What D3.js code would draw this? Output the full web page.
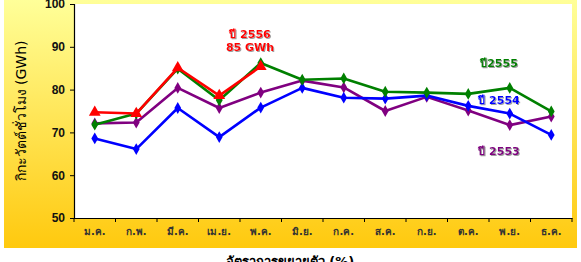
<!DOCTYPE html>
<html><head><meta charset="utf-8">
<script src="https://cdn.jsdelivr.net/npm/d3@7/dist/d3.min.js"></script>
<style>body{margin:0;background:#fff;overflow:hidden}svg{display:block}</style>
</head><body><svg id="c" width="581" height="262"></svg>
<script>
const months = ["ม.ค.","ก.พ.","มี.ค.","เม.ย.","พ.ค.","มิ.ย.","ก.ค.","ส.ค.","ก.ย.","ต.ค.","พ.ย.","ธ.ค."];
const yTicks = [50,60,70,80,90,100];
const y2553 = [72.1,72.3,80.4,75.7,79.3,82.1,80.5,75.0,78.3,75.1,71.7,73.7];
const y2554 = [68.6,66.1,75.7,68.9,75.8,80.4,78.1,77.9,78.6,76.2,74.4,69.4];
const y2555 = [71.8,74.4,84.9,77.5,86.2,82.3,82.6,79.5,79.3,79.0,80.4,74.9];
const y2556 = [74.7,74.4,85.1,78.6,85.4];

const svg = d3.select("#c");
const defs = svg.append("defs");
const g = defs.append("linearGradient").attr("id","bg").attr("x1",0).attr("y1",0).attr("x2",0).attr("y2",1);
g.append("stop").attr("offset","0%").attr("stop-color","#FFFF99");
g.append("stop").attr("offset","100%").attr("stop-color","#FFC90E");
const f = defs.append("filter").attr("id","sh").attr("x","-20%").attr("y","-20%").attr("width","150%").attr("height","150%");
f.append("feDropShadow").attr("dx",1).attr("dy",1).attr("stdDeviation",0.6).attr("flood-color","#888").attr("flood-opacity",0.8);

svg.append("rect").attr("x",4).attr("y",0).attr("width",573).attr("height",248).attr("fill","url(#bg)");

const L=74,R=572,T=4,B=218;
svg.append("rect").attr("x",L).attr("y",T).attr("width",R-L).attr("height",B-T).attr("fill","#fff");

const x = d3.scaleBand().domain(months).range([L,R]);
const y = d3.scaleLinear().domain([50,100]).range([B,T]);

const ya = svg.append("g").attr("transform",`translate(${L},0)`).call(d3.axisLeft(y).tickValues(yTicks).tickSize(4).tickFormat(d3.format("d")));
ya.select(".domain").attr("stroke","#000").attr("stroke-width",1.2);
ya.selectAll("text").attr("font-family","Liberation Sans, Arial").attr("font-size",12).attr("font-weight","bold").attr("fill","#111").attr("dx",-2);

const xa = svg.append("g").attr("transform",`translate(0,${B})`).call(d3.axisBottom(x).tickSize(0).tickPadding(0));
xa.select(".domain").attr("stroke","#000").attr("stroke-width",1.2);
xa.selectAll(".tick text").attr("font-family","Tahoma, DejaVu Sans, Noto Sans").attr("font-size",10).attr("font-weight","bold").attr("fill","#333").attr("y",10);
// tick marks at band boundaries
xa.selectAll(".bt").data(d3.range(13)).join("line").attr("class","bt")
  .attr("x1",i=>L+i*x.step()).attr("x2",i=>L+i*x.step()).attr("y1",0).attr("y2",4).attr("stroke","#000");

const cx = i => x(months[i]) + x.bandwidth()/2;
const line = d3.line().x((d,i)=>cx(i)).y(d=>y(d));

function series(data,color,sym,size){
  svg.append("path").datum(data).attr("d",line).attr("fill","none").attr("stroke",color).attr("stroke-width",2.6).attr("stroke-linejoin","round");
  svg.selectAll(null).data(data).join("path")
    .attr("transform",(d,i)=>`translate(${cx(i)},${y(d)})`)
    .attr("d",d3.symbol().type(sym).size(size)).attr("fill",color);
}
series(y2553,"#800080",d3.symbolDiamond,40);
series(y2554,"#0000FF",d3.symbolDiamond,40);
series(y2555,"#008000",d3.symbolDiamond,40);
series(y2556,"#FF0000",d3.symbolTriangle,60);

function label(t,xx,yy,c){
  svg.append("text").attr("x",xx).attr("y",yy).attr("text-anchor","middle").attr("font-family","Tahoma, DejaVu Sans, Noto Sans").attr("font-size",11).attr("font-weight","bold").attr("fill",c).attr("filter","url(#sh)").text(t);
}
label("ปี 2556",250,38,"#FF0000");
label("85  GWh",250,51,"#FF0000");
label("ปี2555",499,67,"#008000");
label("ปี 2554",499,104,"#0000FF");
label("ปี 2553",499,155,"#800080");

svg.append("text").attr("transform","translate(26,111) rotate(-90)").attr("text-anchor","middle")
  .attr("font-family","Tahoma, DejaVu Sans, Noto Sans").attr("font-size",14).attr("fill","#000").text("กิกะวัตต์ชั่วโมง (GWh)");
svg.append("text").attr("x",290).attr("y",266).attr("text-anchor","middle")
  .attr("font-family","Tahoma, DejaVu Sans, Noto Sans").attr("font-size",13).attr("font-weight","bold").attr("fill","#000").text("อัตราการขยายตัว (%)");
</script></body></html>
